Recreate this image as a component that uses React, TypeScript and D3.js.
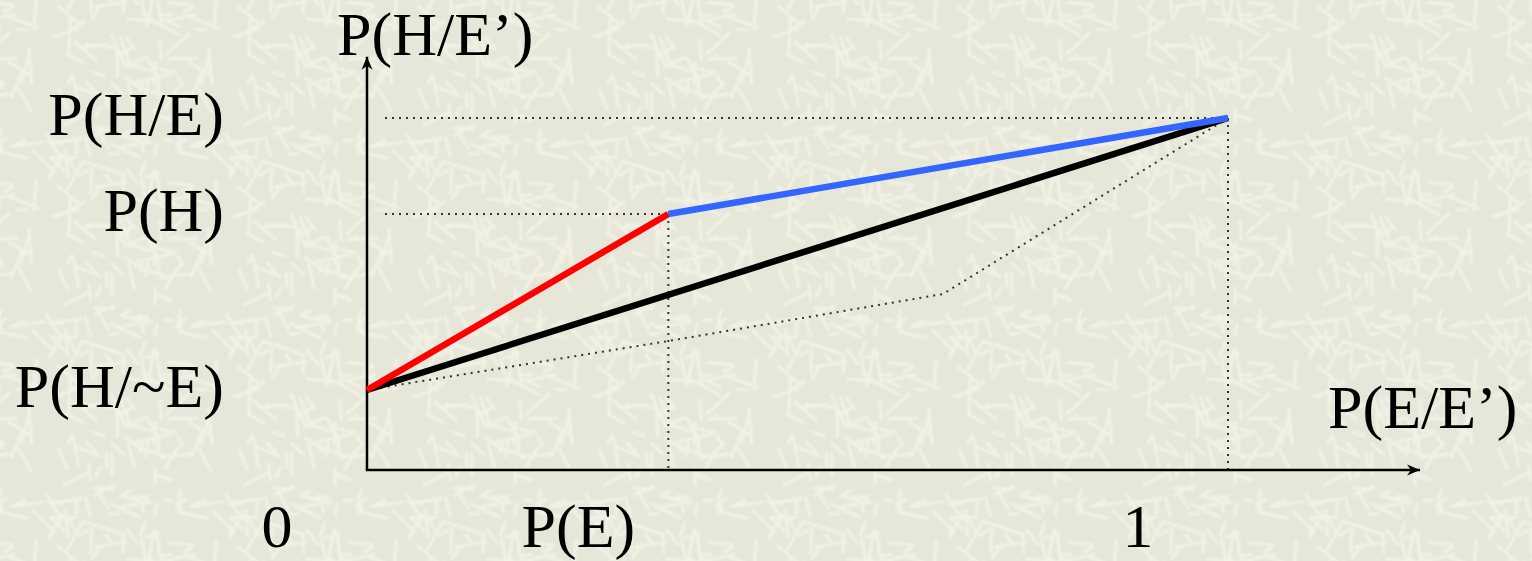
import React, { useEffect, useRef } from 'react';
import * as d3 from 'd3';

// values (x = P(E/E'), y = P(H/E'))
const pE = 0.35;
const pHgivenNotE = 0.2;
const pH = 0.64;
const pHgivenE = 0.88;

const redLine = [
	{ x: 0, y: pHgivenNotE },
	{ x: pE, y: pH },
];
const blueLine = [
	{ x: pE, y: pH },
	{ x: 1, y: pHgivenE },
];
const blackLine = [
	{ x: 0, y: pHgivenNotE },
	{ x: 1, y: pHgivenE },
];
const dottedCurve = [
	{ x: 0, y: pHgivenNotE },
	{ x: 0.35, y: 0.3225 },
	{ x: 0.669, y: 0.44 },
	{ x: 1, y: pHgivenE },
];

const yTickLabels = [
	{ value: pHgivenE, label: 'P(H/E)' },
	{ value: pH, label: 'P(H)' },
	{ value: pHgivenNotE, label: 'P(H/~E)' },
];
const xTickLabels = [
	{ value: 0, label: '0' },
	{ value: pE, label: 'P(E)' },
	{ value: 1, label: '1' },
];

const xAxisEnd = 1.223;
const yAxisEnd = 1.033;

const W = 1532;
const H = 561;
const FONT = 'Liberation Serif';

export default function App() {
	const ref = useRef<SVGSVGElement | null>(null);

	useEffect(() => {
		document.body.style.margin = '0';
		const svgEl = ref.current;
		if (!svgEl) return;
		const svg = d3.select(svgEl);
		svg.selectAll('*').remove();

		const x = d3.scaleLinear().domain([0, 1]).range([367, 1228]);
		const y = d3.scaleLinear().domain([0, 1]).range([470, 70]);

		const defs = svg.append('defs');

		// paper texture behind the chart (decoration only, fixed seed)
		const tile = 180;
		const pat = defs
			.append('pattern')
			.attr('id', 'paper')
			.attr('patternUnits', 'userSpaceOnUse')
			.attr('width', tile)
			.attr('height', tile);
		pat.append('rect').attr('width', tile).attr('height', tile).attr('fill', '#e7e7d9');
		let seed = 11;
		const rnd = () => {
			seed = (seed * 16807) % 2147483647;
			return seed / 2147483647;
		};
		const g = pat.append('g').attr('filter', 'url(#soft)');
		for (let i = 0; i < 110; i++) {
			const cx = rnd() * tile;
			const cy = rnd() * tile;
			const a = rnd() * Math.PI;
			const len = 10 + rnd() * 28;
			const dx = (Math.cos(a) * len) / 2;
			const dy = (Math.sin(a) * len) / 2;
			for (const ox of [-tile, 0, tile]) {
				for (const oy of [-tile, 0, tile]) {
					if (cx + ox < -25 || cx + ox > tile + 25 || cy + oy < -25 || cy + oy > tile + 25) continue;
					g.append('line')
						.attr('x1', cx + ox - dx)
						.attr('y1', cy + oy - dy)
						.attr('x2', cx + ox + dx)
						.attr('y2', cy + oy + dy)
						.attr('stroke', '#f2f2e6')
						.attr('stroke-width', 2.8);
				}
			}
		}
		defs.append('filter')
			.attr('id', 'soft')
			.append('feGaussianBlur')
			.attr('stdDeviation', 0.8);

		defs.append('marker')
			.attr('id', 'arrow')
			.attr('viewBox', '-14 -7 16 14')
			.attr('refX', 0)
			.attr('refY', 0)
			.attr('markerUnits', 'userSpaceOnUse')
			.attr('markerWidth', 16)
			.attr('markerHeight', 14)
			.attr('orient', 'auto')
			.append('path')
			.attr('d', 'M0,0 L-13,-5.5 L-9,0 L-13,5.5 Z')
			.attr('fill', '#000');

		svg.append('rect').attr('width', W).attr('height', H).attr('fill', 'url(#paper)');

		// dotted guide lines
		const dotted = (x1: number, y1: number, x2: number, y2: number) =>
			svg.append('line')
				.attr('x1', x1)
				.attr('y1', y1)
				.attr('x2', x2)
				.attr('y2', y2)
				.attr('stroke', '#333')
				.attr('stroke-width', 2)
				.attr('stroke-dasharray', '2 5');

		dotted(x(0) + 18, y(pHgivenE), x(1), y(pHgivenE));
		dotted(x(0) + 18, y(pH), x(pE), y(pH));
		dotted(x(pE), y(pH), x(pE), y(0));
		dotted(x(1), y(pHgivenE), x(1), y(0));

		const line = d3
			.line<{ x: number; y: number }>()
			.x((d) => x(d.x))
			.y((d) => y(d.y));

		svg.append('path')
			.datum(dottedCurve)
			.attr('d', line)
			.attr('fill', 'none')
			.attr('stroke', '#333')
			.attr('stroke-width', 2)
			.attr('stroke-dasharray', '2 5');

		// axes
		svg.append('line')
			.attr('x1', x(0))
			.attr('y1', y(0))
			.attr('x2', x(0))
			.attr('y2', y(yAxisEnd))
			.attr('stroke', '#000')
			.attr('stroke-width', 2.5)
			.attr('marker-end', 'url(#arrow)');
		svg.append('line')
			.attr('x1', x(0) - 1.25)
			.attr('y1', y(0))
			.attr('x2', x(xAxisEnd))
			.attr('y2', y(0))
			.attr('stroke', '#000')
			.attr('stroke-width', 2.5)
			.attr('marker-end', 'url(#arrow)');

		const drawLine = (data: { x: number; y: number }[], color: string) =>
			svg.append('path')
				.datum(data)
				.attr('d', line)
				.attr('fill', 'none')
				.attr('stroke', color)
				.attr('stroke-width', 6.5);

		drawLine(blackLine, '#000');
		drawLine(redLine, '#ff0000');
		drawLine(blueLine, '#3366ff');

		// labels
		const text = (s: string, tx: number, ty: number, anchor: string) =>
			svg.append('text')
				.attr('x', tx)
				.attr('y', ty)
				.attr('text-anchor', anchor)
				.style('font-family', FONT)
				.attr('font-size', 62)
				.attr('fill', '#000')
				.text(s);

		yTickLabels.forEach((d) => text(d.label, x(0) - 143, y(d.value) + 17, 'end'));
		xTickLabels.forEach((d) => text(d.label, x(d.value) - 90, 547, 'middle'));

		text('P(H/E\u2019)', x(0) - 30, 55, 'start');
		text('P(E/E\u2019)', x(xAxisEnd) - 92, 428, 'start');
	}, []);

	return <svg ref={ref} width={W} height={H} style={{ display: 'block' }} />;
}
